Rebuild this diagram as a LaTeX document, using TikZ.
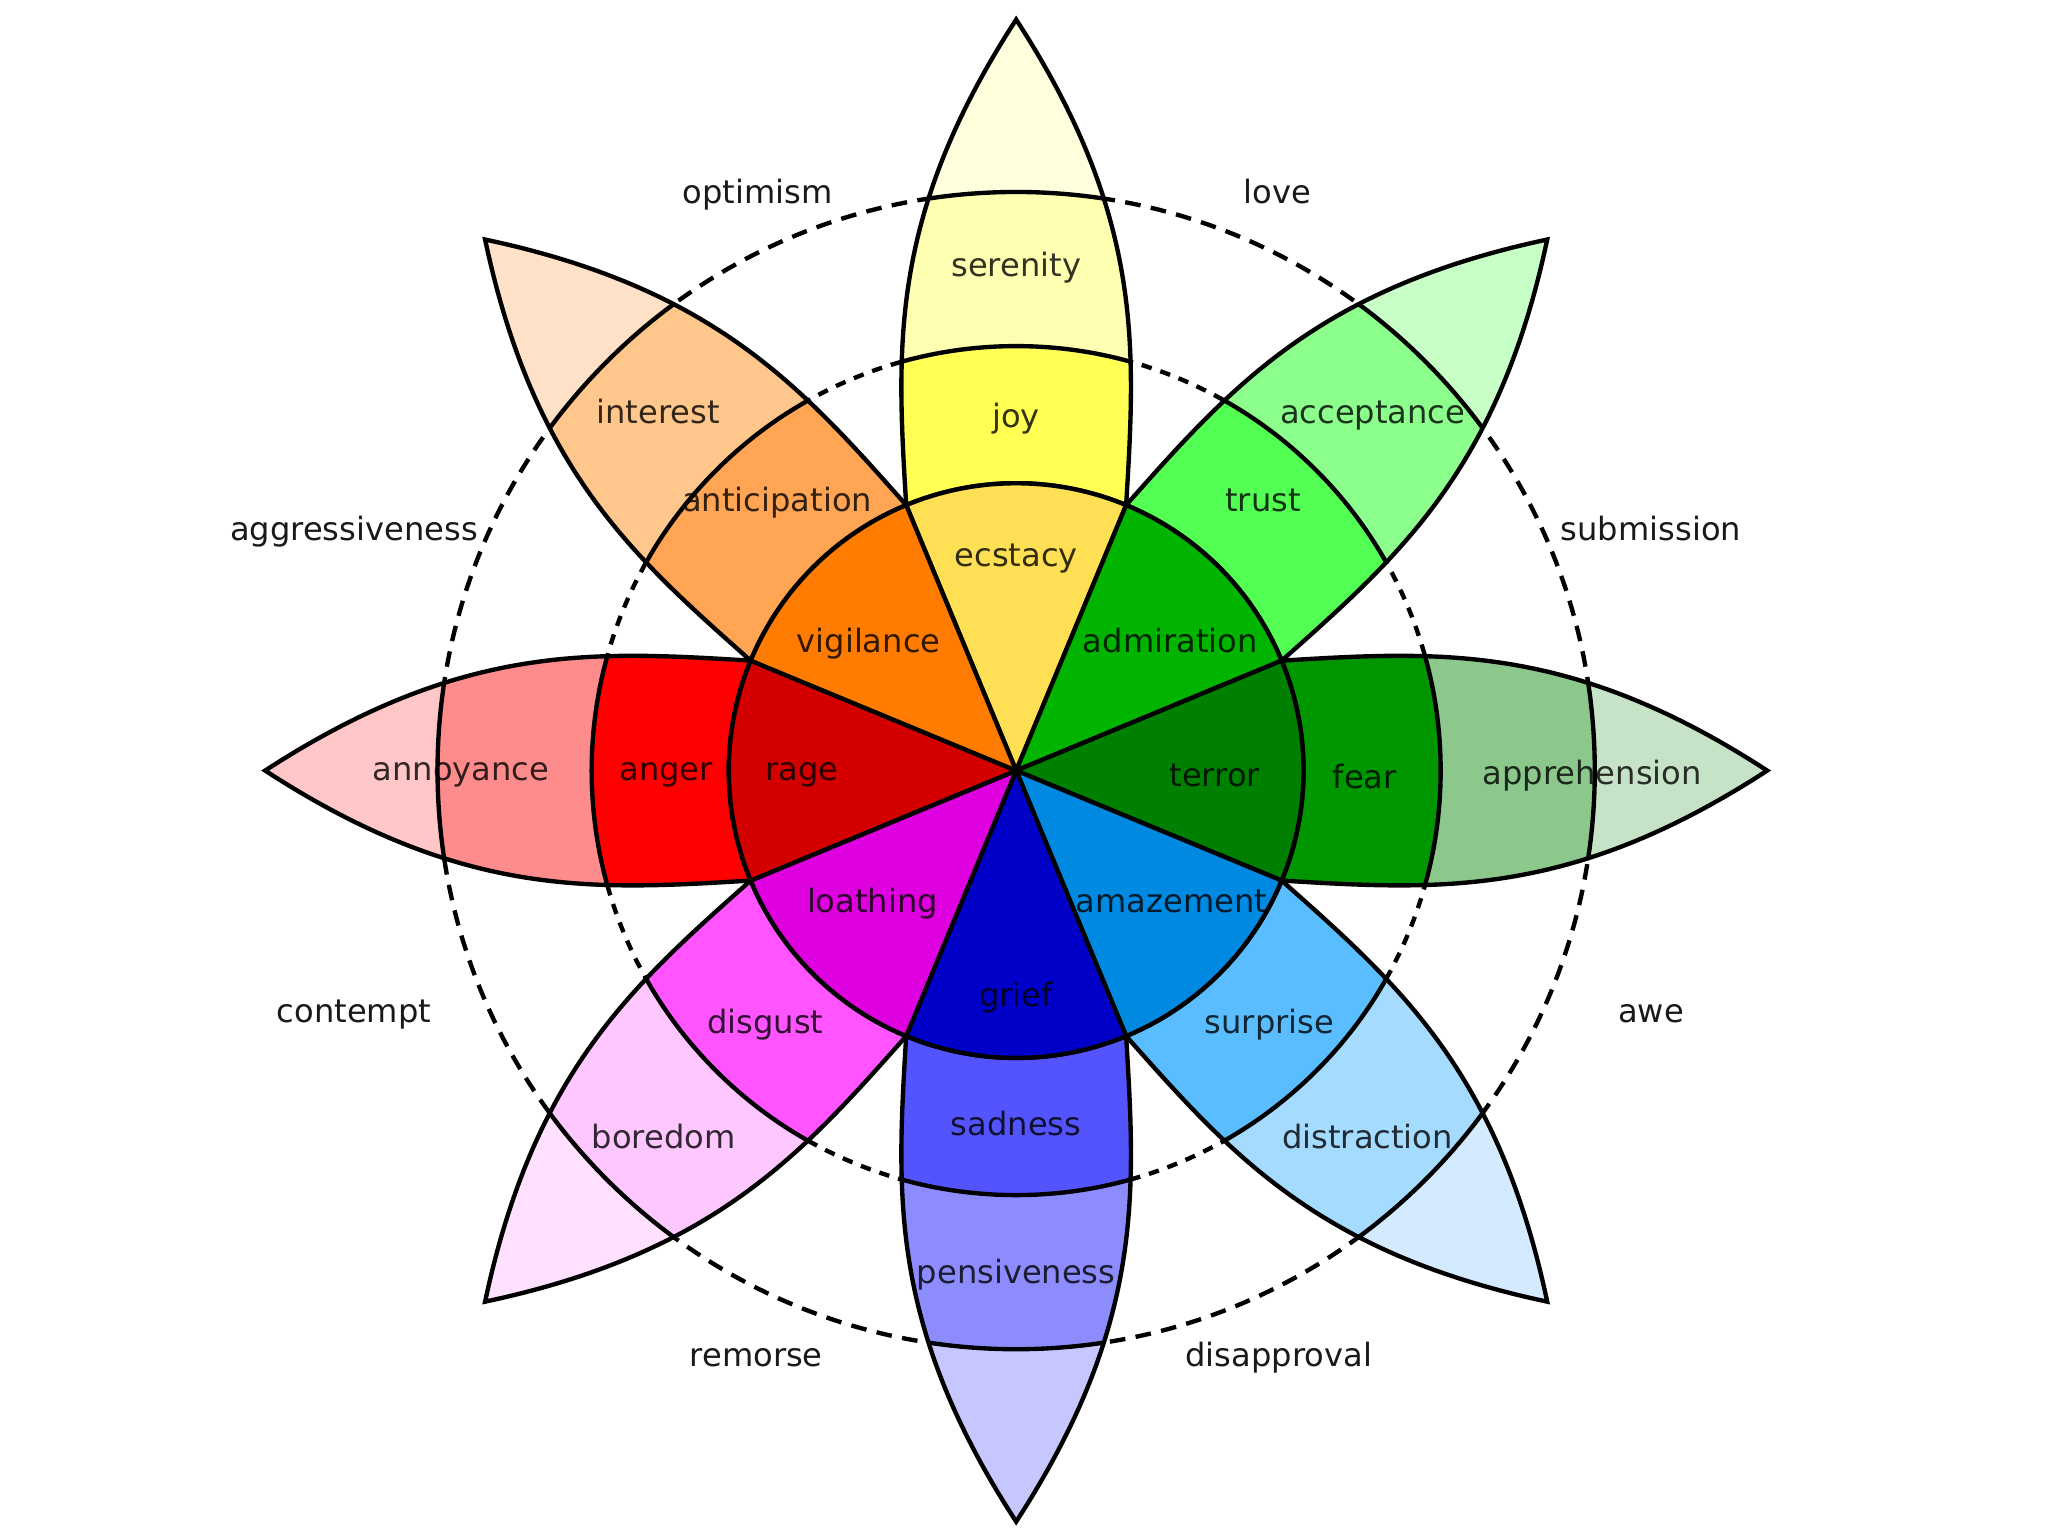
\documentclass[tikz,border=0pt]{standalone}
\usepackage{fontspec}
\setmainfont{DejaVu Sans}
% yellow
\definecolor{yA}{RGB}{255,224,84}\definecolor{yB}{RGB}{255,255,84}\definecolor{yC}{RGB}{255,255,177}\definecolor{yD}{RGB}{255,255,222}
% light green
\definecolor{gA}{RGB}{0,180,0}\definecolor{gB}{RGB}{84,255,84}\definecolor{gC}{RGB}{140,255,140}\definecolor{gD}{RGB}{199,255,199}
% dark green
\definecolor{dA}{RGB}{0,128,0}\definecolor{dB}{RGB}{0,150,0}\definecolor{dC}{RGB}{140,199,140}\definecolor{dD}{RGB}{199,227,199}
% light blue
\definecolor{bA}{RGB}{0,137,224}\definecolor{bB}{RGB}{89,189,255}\definecolor{bC}{RGB}{165,219,255}\definecolor{bD}{RGB}{212,234,255}
% dark blue
\definecolor{vA}{RGB}{0,0,200}\definecolor{vB}{RGB}{84,84,255}\definecolor{vC}{RGB}{140,140,255}\definecolor{vD}{RGB}{199,199,255}
% magenta
\definecolor{mA}{RGB}{222,0,222}\definecolor{mB}{RGB}{255,84,255}\definecolor{mC}{RGB}{255,199,255}\definecolor{mD}{RGB}{255,225,255}
% red
\definecolor{rA}{RGB}{212,0,0}\definecolor{rB}{RGB}{255,0,0}\definecolor{rC}{RGB}{255,140,140}\definecolor{rD}{RGB}{255,199,199}
% orange
\definecolor{oA}{RGB}{255,124,0}\definecolor{oB}{RGB}{255,165,84}\definecolor{oC}{RGB}{255,199,140}\definecolor{oD}{RGB}{255,225,200}
\begin{document}
\begin{tikzpicture}[
  line width=0.95pt,
  petalp/.style={insert path={(-0.842,2.033) .. controls (-0.914,3.233) and (-0.981,4.24) .. (0,5.75) .. controls (0.981,4.24) and (0.914,3.233) .. (0.842,2.033) arc[start angle=67.5, end angle=112.5, radius=2.2] -- cycle}},
  lbl/.style={font=\fontsize{7}{8}\selectfont, text=black, text opacity=0.8, anchor=base, inner sep=0pt, yshift=-0.085cm},
  olbl/.style={font=\fontsize{7}{8}\selectfont, text=black!90, anchor=base, inner sep=0pt, yshift=-0.085cm},
  outerdash/.style={dash pattern=on 0.12cm off 0.08cm},
  innerdash/.style={dash pattern=on 0.08cm off 0.07cm},
]
\useasboundingbox (-7.78,-5.86) rectangle (7.90,5.90);
\draw[outerdash] (0,0) circle (4.43);
\draw[innerdash] (0,0) circle (3.25);
\foreach \a/\cB/\cC/\cD in {90/yB/yC/yD, 45/gB/gC/gD, 0/dB/dC/dD, -45/bB/bC/bD, -90/vB/vC/vD, -135/mB/mC/mD, 180/rB/rC/rD, 135/oB/oC/oD}{
  \begin{scope}[rotate=\a-90]
    \fill[\cD, petalp];
    \begin{scope}
      \clip[petalp];
      \fill[\cC] (0,0) circle (4.43);
      \fill[\cB] (0,0) circle (3.25);
      \draw (0,0) circle (4.43);
      \draw (0,0) circle (3.25);
    \end{scope}
    \draw[line join=miter, petalp];
  \end{scope}
}
\foreach \a/\c in {90/yA, 45/gA, 0/dA, -45/bA, -90/vA, -135/mA, 180/rA, 135/oA}{
  \filldraw[fill=\c] (0,0) -- (\a-22.5:2.2) arc[start angle=\a-22.5, end angle=\a+22.5, radius=2.2] -- cycle;
}
% petal labels
\node[lbl] (serenity) at (0,3.87) {serenity};
\node[lbl] (joy) at (0,2.71) {joy};
\node[lbl] (ecstacy) at (0,1.65) {ecstacy};
\node[lbl] (acceptance) at (2.73,2.74) {acceptance};
\node[lbl] (trust) at (1.89,2.07) {trust};
\node[lbl] (admiration) at (1.18,0.99) {admiration};
\node[lbl] (apprehension) at (4.41,-0.02) {apprehension};
\node[lbl] (fear) at (2.67,-0.05) {fear};
\node[lbl] (terror) at (1.52,-0.04) {terror};
\node[lbl] (distraction) at (2.69,-2.81) {distraction};
\node[lbl] (surprise) at (1.94,-1.93) {surprise};
\node[lbl] (amazement) at (1.19,-1.00) {amazement};
\node[lbl] (pensiveness) at (0,-3.84) {pensiveness};
\node[lbl] (sadness) at (0,-2.71) {sadness};
\node[lbl] (grief) at (0,-1.72) {grief};
\node[lbl] (boredom) at (-2.70,-2.81) {boredom};
\node[lbl] (disgust) at (-1.92,-1.93) {disgust};
\node[lbl] (loathing) at (-1.10,-1.00) {loathing};
\node[lbl] (annoyance) at (-4.25,0.01) {annoyance};
\node[lbl] (anger) at (-2.68,0.01) {anger};
\node[lbl] (rage) at (-1.64,0.01) {rage};
\node[lbl] (interest) at (-2.74,2.74) {interest};
\node[lbl] (anticipation) at (-1.83,2.07) {anticipation};
\node[lbl] (vigilance) at (-1.13,0.99) {vigilance};
% dyads
\node[olbl] (optimism) at (-1.98,4.43) {optimism};
\node[olbl] (love) at (2.00,4.43) {love};
\node[olbl] (aggressiveness) at (-5.07,1.85) {aggressiveness};
\node[olbl] (submission) at (4.86,1.85) {submission};
\node[olbl] (contempt) at (-5.07,-1.84) {contempt};
\node[olbl] (awe) at (4.86,-1.84) {awe};
\node[olbl] (remorse) at (-1.99,-4.48) {remorse};
\node[olbl] (disapproval) at (2.01,-4.48) {disapproval};
\end{tikzpicture}
\end{document}
